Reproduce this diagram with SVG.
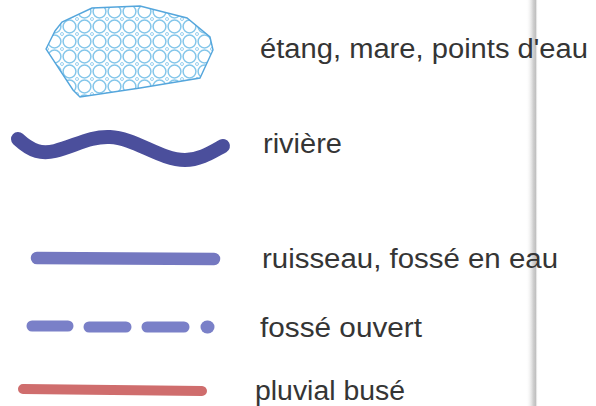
<svg xmlns="http://www.w3.org/2000/svg" width="596" height="406" viewBox="0 0 596 406">
<style>
text{font-family:"Liberation Sans",Arial,sans-serif;font-size:27px;fill:#353535;}
.line{fill:none;stroke-linecap:round;stroke-linejoin:round;}
</style>
<defs>
<pattern id="bubbles" x="2" y="4" width="15" height="15" patternUnits="userSpaceOnUse">
<circle cx="7.5" cy="7.5" r="6.4" fill="none" stroke="#84c6ea" stroke-width="1.5"/>
<circle cx="0" cy="0" r="1.5" fill="none" stroke="#98cfee" stroke-width="1"/>
<circle cx="15" cy="0" r="1.5" fill="none" stroke="#98cfee" stroke-width="1"/>
<circle cx="0" cy="15" r="1.5" fill="none" stroke="#98cfee" stroke-width="1"/>
<circle cx="15" cy="15" r="1.5" fill="none" stroke="#98cfee" stroke-width="1"/>
</pattern>
<linearGradient id="fold" x1="0" y1="0" x2="1" y2="0">
<stop offset="0" stop-color="#ffffff" stop-opacity="0"/>
<stop offset="0.6" stop-color="#d0d0d0"/>
<stop offset="0.8" stop-color="#c0c0c0"/>
<stop offset="1" stop-color="#ffffff" stop-opacity="0"/>
</linearGradient>
</defs>
<rect width="596" height="406" fill="#ffffff"/>
<rect x="526" y="0" width="12" height="406" fill="url(#fold)"/>

<g id="etang">
<polygon points="46,49 55,31 62,22 92,8 140,6 187,18 210,37 213,50 200,78 140,88 80,97 73,90" fill="url(#bubbles)" stroke="#55a6dc" stroke-width="1.4"/>
<text x="260" y="58" textLength="328" lengthAdjust="spacingAndGlyphs">étang, mare, points d'eau</text>
</g>

<g id="riviere">
<path class="line" d="M18,139 C32,152 42,154 55,151 C75,146 90,136 110,137 C135,138 160,160 185,160 C200,160 212,152 223,146" stroke="#4b4f9c" stroke-width="14"/>
<text x="263" y="153" textLength="79" lengthAdjust="spacingAndGlyphs">rivière</text>
</g>

<g id="ruisseau">
<path class="line" d="M37,258 L214,259" stroke="#7478c0" stroke-width="12.5"/>
<text x="262" y="268" textLength="296" lengthAdjust="spacingAndGlyphs">ruisseau, fossé en eau</text>
</g>

<g id="fosse">
<g class="line" stroke="#7a80c8" stroke-width="11">
<path d="M32,326 L68,326"/>
<path d="M89,327 L126,327"/>
<path d="M147,327 L184,327"/>
<path d="M207,327 L208,327" stroke-width="13"/>
</g>
<text x="260" y="337" textLength="162" lengthAdjust="spacingAndGlyphs">fossé ouvert</text>
</g>

<g id="pluvial">
<path class="line" d="M23,389 L202,391" stroke="#cf6d6d" stroke-width="10"/>
<text x="255" y="400" textLength="150" lengthAdjust="spacingAndGlyphs">pluvial busé</text>
</g>
</svg>
